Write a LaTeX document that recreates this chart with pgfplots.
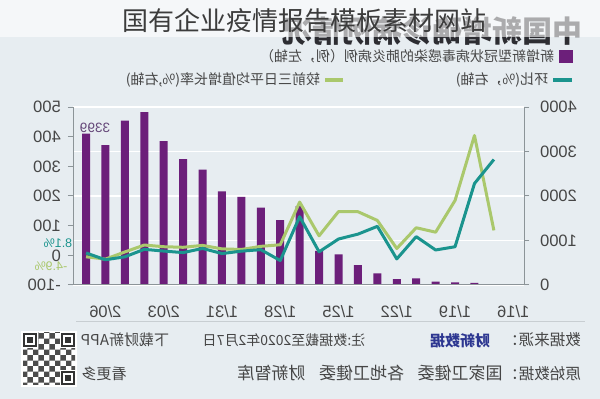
\documentclass[border=0pt]{standalone}
\usepackage{fontspec}
\setmainfont{Liberation Sans}
\newfontfamily\cjk{Noto Sans CJK SC}
\usepackage{graphicx}
\usepackage{pgfplots}
\usepackage{pgfplotstable}
\pgfplotsset{compat=1.18}
\usetikzlibrary{patterns}
\definecolor{bg}{RGB}{231,237,241}
\definecolor{barp}{RGB}{108,31,122}
\definecolor{teal2}{RGB}{27,148,142}
\definecolor{grn}{RGB}{170,200,108}
\definecolor{axg}{RGB}{140,148,152}
\definecolor{txt}{RGB}{70,70,70}
\definecolor{logo}{RGB}{45,55,145}
\definecolor{bigt}{RGB}{45,45,50}
\definecolor{ttl}{RGB}{60,60,60}
\definecolor{lbl}{RGB}{100,70,120}
\definecolor{sep}{RGB}{200,206,210}
\newcommand{\fs}[1]{\fontsize{#1}{#1}\selectfont}
\newcommand{\rb}[1]{\reflectbox{#1}}
\pgfplotstableread{
i bar teal green
0 3399 8.1 -4.9
1 3143 -14.9 -12.8
2 3694 -5.0 11.4
3 3887 20.2 34.7
4 3235 14.4 29.0
5 2829 9.2 27.1
6 2590 23.2 33.5
7 2102 6.0 21.8
8 1982 14.1 19.7
9 1737 19.1 30.3
10 1459 -17.6 35.6
11 1771 130.3 179.5
12 769 11.8 65.8
13 688 55.0 147.5
14 444 71.4 147.1
15 259 97.7 117.6
16 131 -12.1 23
17 149 63 93
18 77 18 78
19 59 29 185
20 45 242 404
21 10 323 84
}\data
\begin{document}
\begin{tikzpicture}[x=1pt,y=1pt]
\useasboundingbox (0,0) rectangle (600,399);
\fill[bg] (0,0) rectangle (600,399);
% big mirrored title, partly veiled
\node[font=\cjk\bfseries\fs{30}, text=bigt] at (432,368) {\rb{中国新增确诊病例情况}};
\fill[white, opacity=0.6] (0,362) rectangle (600,399);
\node[font=\cjk\fs{26}, text=ttl] at (304,378) {国有企业疫情报告模板素材网站};
% legend
\fill[barp] (559,336) rectangle (573,349);
\node[font=\cjk\fs{14}, text=txt] at (407,343) {\rb{新增新型冠状病毒感染的肺炎病例（例，左轴）}};
\draw[teal2, line width=3.5pt] (553,319) -- (572,319);
\node[font=\cjk\fs{14}, text=txt] at (502,319) {\rb{环比(\%，右轴)}};
\draw[grn, line width=3.5pt] (325,319) -- (343,319);
\node[font=\cjk\fs{14}, text=txt] at (223,319) {\rb{较前三日平均值增长率(\%,右轴)}};

\begin{axis}[
  at={(73pt,114pt)}, anchor=south west, scale only axis,
  width=451pt, height=178pt,
  xmin=-0.67, xmax=22.55, ymin=0, ymax=4000,
  axis x line=none, axis y line*=right,
  axis line style={axg, line width=1pt},
  ytick={0,1000,2000,3000,4000},
  ymajorgrids, grid style={white, line width=1.8pt},
  major tick length=5pt, tick align=outside, tick style={axg, line width=1pt},
  /pgf/number format/assume math mode=true, /pgf/number format/1000 sep={},
  yticklabel={\rb{\pgfmathprintnumber{\tick}}},
  yticklabel style={font=\fs{16.5}, text=txt, anchor=west, inner sep=0pt, xshift=11pt},
  ybar, bar width=8pt,
]
\addplot[fill=barp, draw=none] table[x=i,y=bar]{\data};
\end{axis}

\begin{axis}[
  at={(73pt,114pt)}, anchor=south west, scale only axis,
  width=451pt, height=178pt,
  xmin=-0.67, xmax=22.55, ymin=-100, ymax=500,
  axis x line*=bottom, axis y line*=left,
  axis line style={axg, line width=1pt},
  ytick={-100,0,100,200,300,400,500},
  xtick={1,4,7,10,13,16,19,22},
  xticklabels={\rb{2/06},\rb{2/03},\rb{1/31},\rb{1/28},\rb{1/25},\rb{1/22},\rb{1/19},\rb{1/16}},
  x tick style={draw=none},
  extra x ticks={1.5,4.5,7.5,10.5,13.5,16.5,19.5,22.5},
  extra x tick style={xticklabel={}, x tick style={axg, line width=1pt}},
  major tick length=5pt, tick align=outside, tick style={axg, line width=1pt},
  /pgf/number format/assume math mode=true, /pgf/number format/1000 sep={},
  yticklabel={\rb{\pgfmathprintnumber{\tick}}},
  yticklabel style={font=\fs{16.5}, text=txt, anchor=east, inner sep=0pt, xshift=-7pt},
  xticklabel style={font=\fs{16.5}, text=txt, anchor=north, inner sep=0pt, yshift=-15pt},
]
\addplot[grn, line width=3pt, line join=round, mark=none] table[x=i,y=green]{\data};
\addplot[teal2, line width=3pt, line join=round, mark=none] table[x=i,y=teal]{\data};
\end{axis}

\node[font=\fs{13.5}, text=lbl] at (95,271.5) {\rb{3399}};
\node[font=\fs{12.5}, text=teal2] at (58,156) {\rb{8.1\%}};
\node[font=\fs{12.5}, text=grn] at (51,133) {\rb{-4.9\%}};

% footer
\draw[sep, line width=1pt] (76,77) -- (585,77);
\node[font=\cjk\fs{15.5}, text=txt] at (542,59) {\rb{数据来源：}};
\node[font=\cjk\bfseries\fs{15}, text=logo] at (460,58) {\rb{财新数据}};
\node[font=\cjk\fs{14}, text=txt] at (284,59) {\rb{注:数据截至2020年2月7日}};
\node[font=\cjk\fs{15}, text=txt] at (125,59) {\rb{下载财新APP}};
\node[font=\cjk\fs{15.5}, text=txt] at (542,25.5) {\rb{原始数据：}};
\node[font=\cjk\fs{17}, text=txt] at (370,25.5) {\rb{国家卫健委\hspace{0.8em}各地卫健委\hspace{0.8em}财新智库}};
\node[font=\cjk\fs{15}, text=txt] at (104,25.5) {\rb{看更多}};
% QR-like block
\fill[white] (21,12) rectangle (77,68);
\fill[pattern=checkerboard, pattern color=black!70] (23,14) rectangle (75,66);
\foreach \cx/\cy in {23/52, 61/52, 61/14}{
  \fill[white] (\cx-1,\cy-1) rectangle (\cx+15,\cy+15);
  \fill[black!80] (\cx,\cy) rectangle (\cx+14,\cy+14);
  \fill[white] (\cx+2,\cy+2) rectangle (\cx+12,\cy+12);
  \fill[black!80] (\cx+4,\cy+4) rectangle (\cx+10,\cy+10);
}
\end{tikzpicture}
\end{document}
